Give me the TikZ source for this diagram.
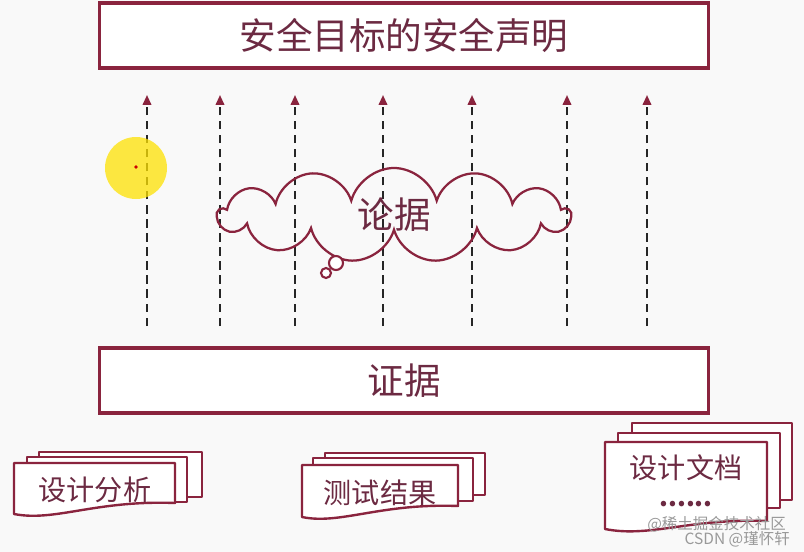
\documentclass[tikz,border=0pt]{standalone}
\usepackage{fontspec}
\setmainfont{Noto Sans CJK SC}
\usetikzlibrary{arrows.meta, positioning, shapes.symbols}
\definecolor{boxred}{RGB}{138,36,62}
\definecolor{txtred}{RGB}{108,42,66}
\definecolor{bgpaper}{RGB}{249,249,249}

\begin{document}
\begin{tikzpicture}[x=0.025cm, y=-0.025cm,
  bigbox/.style={draw=boxred, line width=2.2pt, fill=white, minimum width=15.2cm,
    minimum height=1.625cm, font=\fontsize{26}{28}\selectfont, text=txtred},
  card/.style={draw=boxred, line width=1.7pt, fill=white, line join=round},
  cardtxt/.style={font=\fontsize{20}{22}\selectfont, text=txtred, inner sep=1pt},
  arr/.style={line width=1.4pt, black!85, dash pattern=on 6pt off 4pt,
    -{Triangle[length=7pt, width=6pt, color=boxred]}},
  wmark/.style={font=\fontsize{11}{12}\selectfont, text=black!40, inner sep=0pt}
]
  \fill[bgpaper] (0,0) rectangle (804,552);
  \useasboundingbox (0,0) rectangle (804,552);

  \node[bigbox] (claim) at (404, 35.5)  {安全目标的安全声明};
  \node[bigbox] (evid)  at (404, 380.5) {证据};

  \foreach \i/\x in {1/147, 2/220, 3/295, 4/383, 5/472, 6/567, 7/647} {
    \coordinate (low\i)  at (\x, 326);
    \coordinate (high\i) at (\x, 95);
    \draw[arr] (low\i) -- (high\i);
  }

  \node[cloud, cloud puffs=13, cloud ignores aspect, draw=boxred, line width=1.6pt,
    minimum width=8.8cm, minimum height=2.35cm, font=\fontsize{26}{28}\selectfont,
    text=txtred] (reason) at (394, 215) {论据};
  \draw[boxred, line width=1.5pt, fill=white] (336, 263) circle (7);
  \draw[boxred, line width=1.5pt, fill=white] (326, 273) circle (5);

  \draw[card] (39,452) rectangle (202,497);
  \draw[card] (27,457) rectangle (187,502);
  \draw[card] (14,463) -- (175,463) -- (175,503)
    .. controls (95,500) and (55,522) .. (14,514) -- cycle;
  \node[cardtxt] (ana) at (95, 490) {设计分析};

  \draw[card] (325,453) rectangle (485,495);
  \draw[card] (313,458) rectangle (473,501);
  \draw[card] (302,465) -- (458,465) -- (458,506)
    .. controls (380,503) and (340,525) .. (302,517) -- cycle;
  \node[cardtxt] (test) at (380, 493) {测试结果};

  \draw[card] (632,423) rectangle (792,500);
  \draw[card] (618,433) rectangle (780,508);
  \draw[card] (605,442) -- (767,442) -- (767,521)
    .. controls (690,518) and (650,538) .. (605,529) -- cycle;
  \node[cardtxt, inner sep=0pt] (doc) at (686, 468) {设计文档};
  \node[cardtxt, font=\bfseries\fontsize{18}{18}\selectfont, inner sep=0pt] (dots) at (686, 504) {......};

  \fill[yellow!85!orange, opacity=0.75] (136,168) circle (31);
  \fill[red!80!black] (136,167) circle (1.8);

  \node[wmark, anchor=east] (wm1) at (786, 524) {@稀土掘金技术社区};
  \node[wmark, anchor=east] (wm2) at (790, 539) {CSDN @瑾怀轩};
\end{tikzpicture}
\end{document}
